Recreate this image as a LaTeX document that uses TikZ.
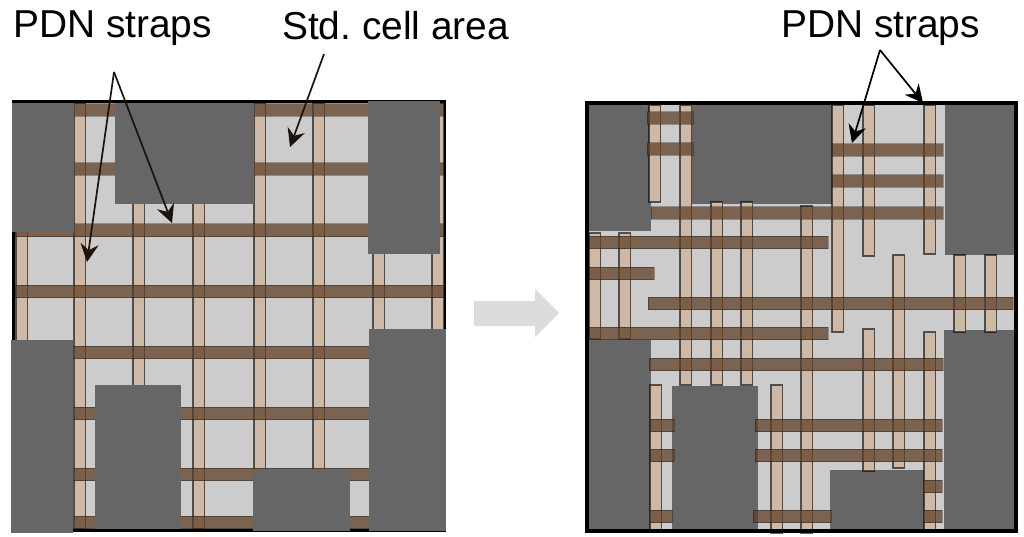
\documentclass[tikz,border=0pt]{standalone}
\usepackage{fontspec}
\setmainfont{Liberation Sans}
\usetikzlibrary{arrows.meta}
\definecolor{cellcolor}{HTML}{CCCCCC}
\definecolor{blockcolor}{HTML}{666666}
\definecolor{vstrapcolor}{HTML}{CDB9A5}
\definecolor{hstrapcolor}{HTML}{5F4029}
\definecolor{flowcolor}{HTML}{DCDCDC}
\tikzset{
  block/.style={fill=blockcolor},
  vertstrap/.style={fill=vstrapcolor, draw=black, draw opacity=.6, line width=1.4pt},
  horstrap/.style={fill=hstrapcolor, fill opacity=.75, draw=black, draw opacity=.3, line width=1pt},
  label/.style={font=\fontsize{38.9}{40}\selectfont\frenchspacing, inner sep=0pt, anchor=base west},
  pointer/.style={-{Stealth[length=18pt,width=18pt,inset=6pt]}, line width=1.7pt},
}
\newcommand{\vstrap}[3]{\draw[vertstrap] (#1,#2) rectangle (#1+11.5,#3);}
\newcommand{\hstrap}[3]{\draw[horstrap] (#1,#3) rectangle (#2,#3+12.5);}
\newcommand{\macro}[4]{\fill[block] (#1,#3) rectangle (#2,#4);}

\begin{document}
\begin{tikzpicture}[x=1pt,y=-1pt]
  \useasboundingbox (0,0) rectangle (1024,537);

  % left floorplan
  \fill[cellcolor] (13,102) rectangle (444,530);
  \draw[line width=3pt] (13.5,102) rectangle (444.5,530.5);
  \foreach \x in {16,74,133,193,254,313,373,432} {\vstrap{\x}{103}{529}}
  \foreach \y in {104,163,224,285,346,407,468,516} {\hstrap{15}{443}{\y}}
  \macro{12}{74}{103}{232}
  \macro{115}{254}{103}{204}
  \macro{368}{440}{101}{254}
  \macro{11}{73}{340}{533}
  \macro{95}{181}{385}{529}
  \macro{253}{350}{469}{531}
  \macro{369}{446}{329}{531}

  % right floorplan
  \fill[cellcolor] (587,104) rectangle (1016,530);
  \macro{589}{651}{105}{231}
  \macro{692}{832}{105}{204}
  \macro{945}{1014}{105}{255}
  \macro{589}{651}{340}{530}
  \macro{672}{758}{386}{530}
  \macro{830}{924}{470}{530}
  \macro{944}{1014}{330}{530}

  % vertical straps
  \vstrap{649}{105}{202}
  \vstrap{680}{105}{385}
  \vstrap{711}{202}{385}
  \vstrap{741}{202}{385}
  \vstrap{801}{206}{533}
  \vstrap{832}{105}{332}
  \vstrap{863}{105}{256}
  \vstrap{924}{105}{254}
  \vstrap{893}{255}{468}
  \vstrap{954}{255}{332}
  \vstrap{985}{255}{332}
  \vstrap{589}{233}{339}
  \vstrap{619}{233}{339}
  \vstrap{863}{329}{471}
  \vstrap{924}{332}{531}
  \vstrap{650}{385}{531}
  \vstrap{771}{385}{533}

  % horizontal straps
  \foreach \y in {112,143} {\hstrap{647}{693}{\y}}
  \foreach \y in {144,175} {\hstrap{832}{943}{\y}}
  \hstrap{651}{943}{207}
  \hstrap{589}{828}{236}
  \hstrap{589}{654}{267}
  \hstrap{648}{1013}{297}
  \hstrap{589}{828}{327}
  \hstrap{649}{943}{358}
  \foreach \y in {419,449} {
    \hstrap{650}{674}{\y}
    \hstrap{755}{942}{\y}
  }
  \foreach \y in {480,510} {\hstrap{923}{942}{\y}}
  \hstrap{649}{672}{510}
  \hstrap{753}{831}{510}
  \draw[line width=4pt] (587,103) rectangle (1016,531);

  % flow arrow
  \fill[flowcolor] (474,301) -- (535,301) -- (535,289) -- (559,313) -- (535,337) -- (535,326) -- (474,326) -- cycle;

  % labels
  \node[label] (strapsleft) at (13,38) {PDN straps};
  \node[label] (cellarea) at (282,40) {Std. cell area};
  \node[label] (strapsright) at (781,38) {PDN straps};

  % pointers
  \coordinate (forkleft) at (114,72);
  \coordinate (tipa) at (87,262);
  \coordinate (tipb) at (172,223);
  \coordinate (cellstart) at (324,54);
  \coordinate (tipc) at (290,147);
  \coordinate (forkright) at (880,50);
  \coordinate (tipd) at (852,143);
  \coordinate (tipe) at (923,103);
  \draw[pointer, black!85!brown] (forkleft) -- (tipa);
  \draw[pointer, black!85!brown] (forkleft) -- (tipb);
  \draw[pointer, black!85!brown] (cellstart) -- (tipc);
  \draw[pointer] (forkright) -- (tipd);
  \draw[pointer] (forkright) -- (tipe);
\end{tikzpicture}
\end{document}
